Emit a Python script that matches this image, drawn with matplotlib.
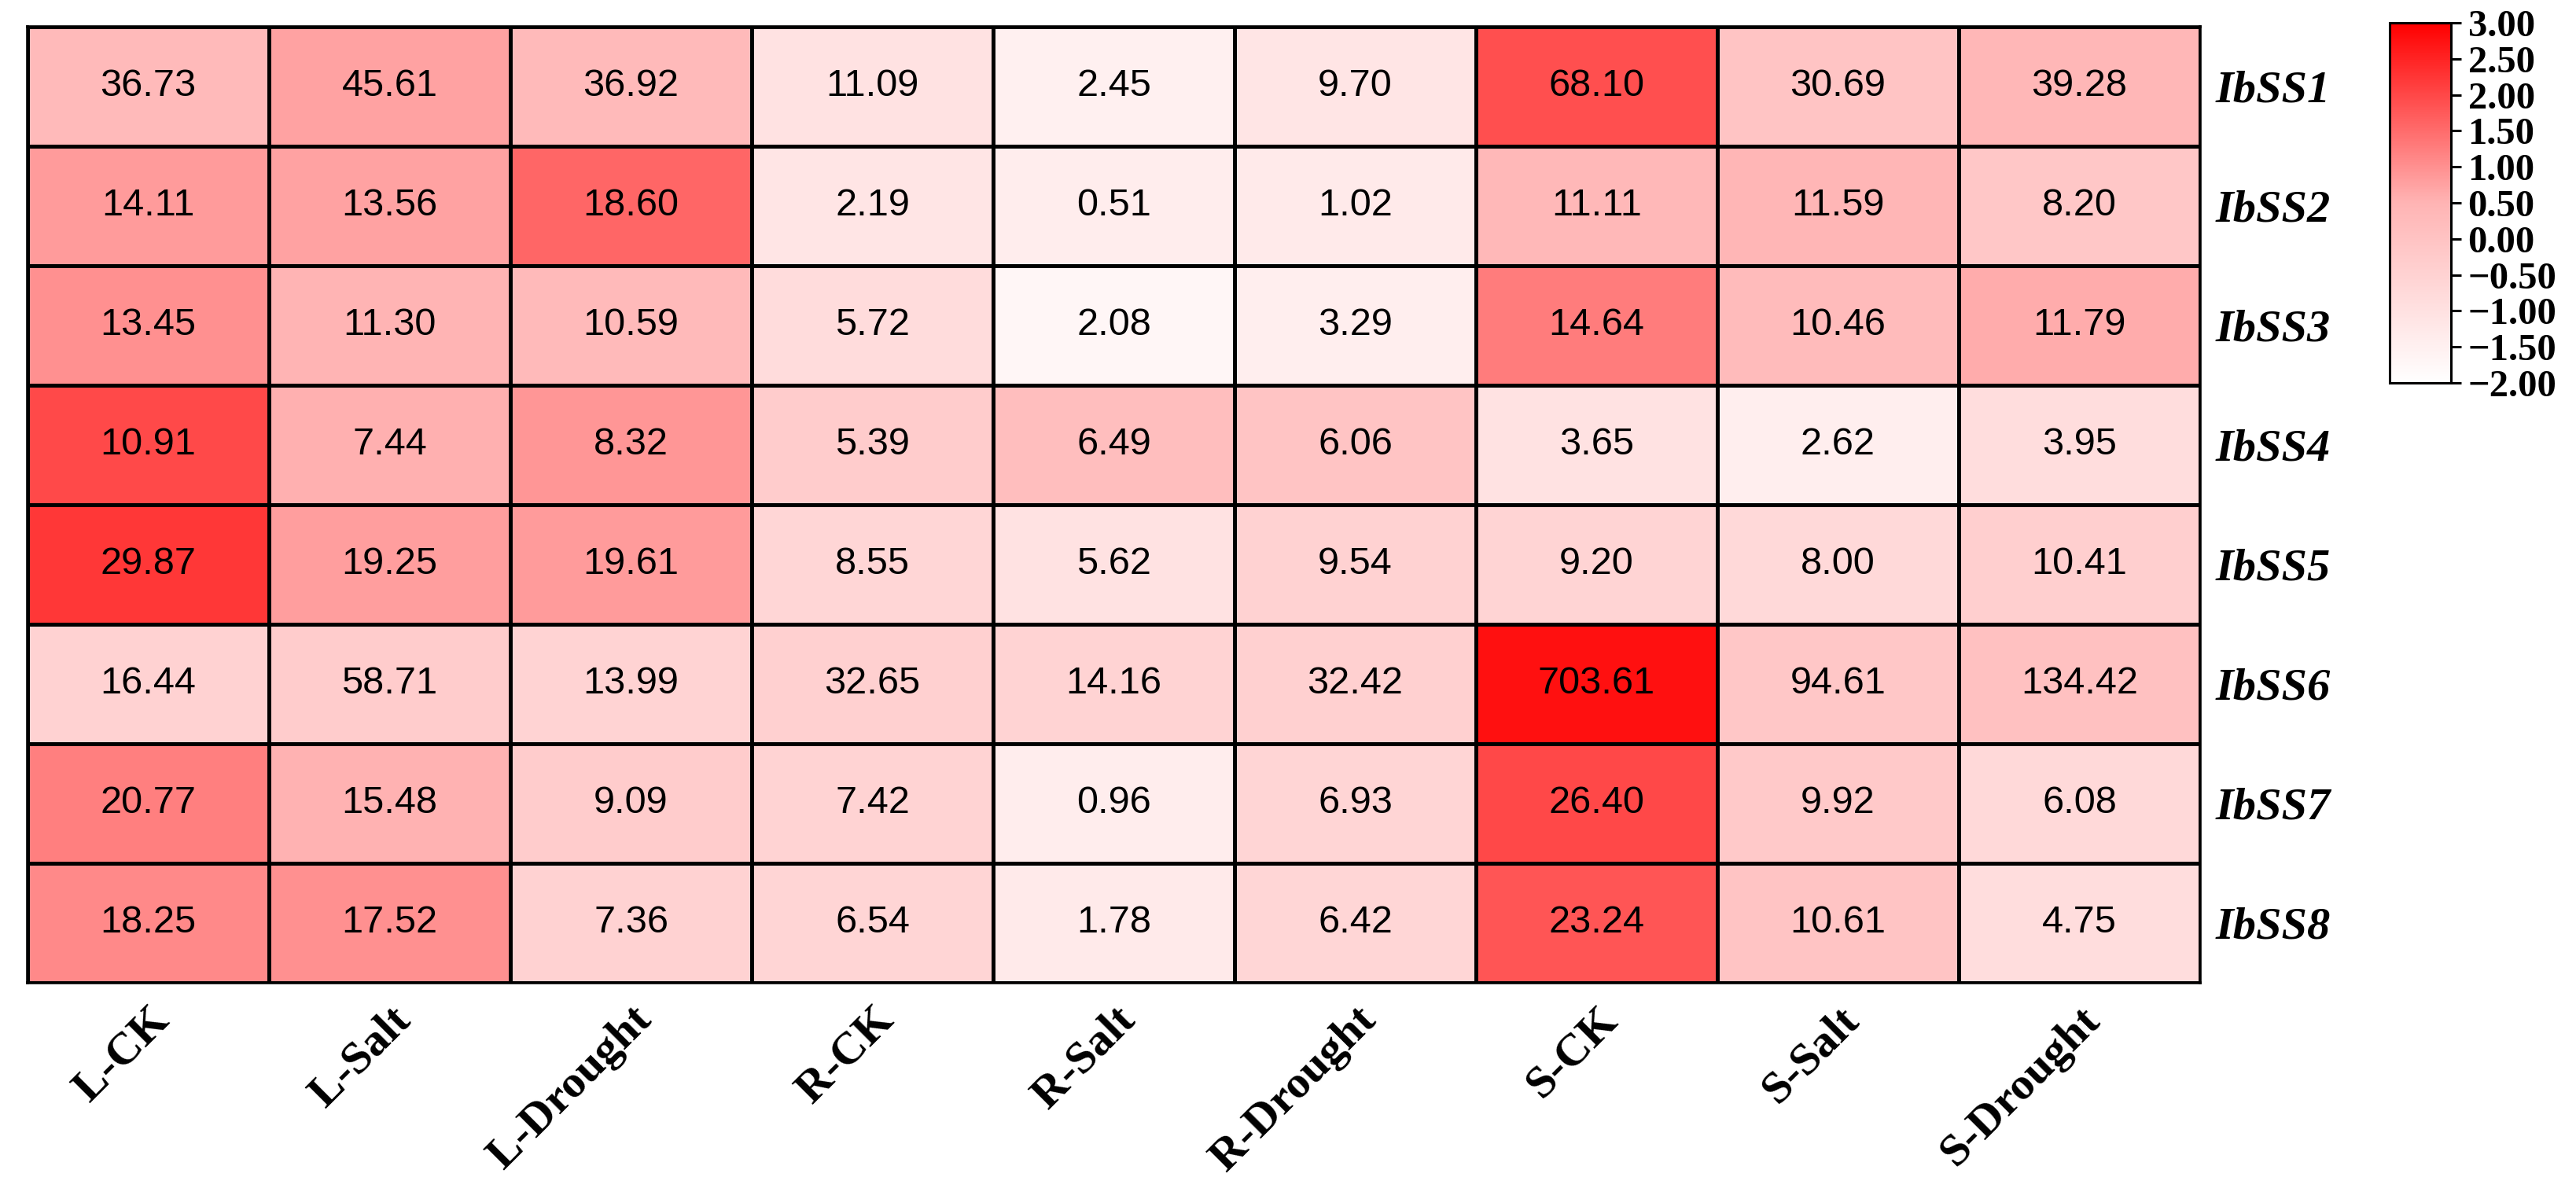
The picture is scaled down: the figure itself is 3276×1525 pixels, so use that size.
import numpy as np
import matplotlib
matplotlib.use("Agg")
import matplotlib.pyplot as plt
from matplotlib.colors import LinearSegmentedColormap, Normalize

genes = ["IbSS1", "IbSS2", "IbSS3", "IbSS4", "IbSS5", "IbSS6", "IbSS7", "IbSS8"]
samples = ["L-CK", "L-Salt", "L-Drought", "R-CK", "R-Salt", "R-Drought",
           "S-CK", "S-Salt", "S-Drought"]

IbSS1 = [36.73, 45.61, 36.92, 11.09, 2.45, 9.70, 68.10, 30.69, 39.28]
IbSS2 = [14.11, 13.56, 18.60, 2.19, 0.51, 1.02, 11.11, 11.59, 8.20]
IbSS3 = [13.45, 11.30, 10.59, 5.72, 2.08, 3.29, 14.64, 10.46, 11.79]
IbSS4 = [10.91, 7.44, 8.32, 5.39, 6.49, 6.06, 3.65, 2.62, 3.95]
IbSS5 = [29.87, 19.25, 19.61, 8.55, 5.62, 9.54, 9.20, 8.00, 10.41]
IbSS6 = [16.44, 58.71, 13.99, 32.65, 14.16, 32.42, 703.61, 94.61, 134.42]
IbSS7 = [20.77, 15.48, 9.09, 7.42, 0.96, 6.93, 26.40, 9.92, 6.08]
IbSS8 = [18.25, 17.52, 7.36, 6.54, 1.78, 6.42, 23.24, 10.61, 4.75]

values = np.array([IbSS1, IbSS2, IbSS3, IbSS4, IbSS5, IbSS6, IbSS7, IbSS8])
# row-scaled (z-score) colouring
zs = (values - values.mean(axis=1, keepdims=True)) / values.std(axis=1, keepdims=True)

cbar_ticks = [3.0, 2.5, 2.0, 1.5, 1.0, 0.5, 0.0, -0.5, -1.0, -1.5, -2.0]

cmap = LinearSegmentedColormap.from_list("wr", ["#ffffff", "#ffb4b4", "#ff0000"])
norm = Normalize(vmin=-2, vmax=3)

W, H = 3276, 1525
fig = plt.figure(figsize=(W / 100, H / 100), dpi=100)

ax = fig.add_axes([35 / W, 1 - 1250 / H, (2798 - 35) / W, (1250 - 34) / H])
mesh = ax.pcolormesh(np.arange(len(samples) + 1), np.arange(len(genes) + 1), zs,
                     cmap=cmap, norm=norm, edgecolors="black", linewidth=2.2)
ax.set_xlim(0, len(samples))
ax.set_ylim(len(genes), 0)

for i in range(len(genes)):
    for j in range(len(samples)):
        ax.text(j + 0.5, i + 0.5, f"{values[i, j]:.2f}", ha="center", va="center",
                fontsize=35, family="Liberation Sans", color="black")

ax.set_xticks(np.arange(len(samples)) + 0.5)
ax.set_xticklabels(samples, rotation=45, ha="right", rotation_mode="anchor",
                   fontsize=42, family="Liberation Serif", fontweight="bold")
ax.set_yticks(np.arange(len(genes)) + 0.5)
ax.set_yticklabels(genes, fontsize=42, family="Liberation Serif",
                   fontweight="bold", fontstyle="italic")
ax.yaxis.tick_right()
ax.tick_params(axis="both", length=0)
ax.tick_params(axis="y", pad=14)
ax.tick_params(axis="x", pad=15)
for s in ax.spines.values():
    s.set_linewidth(2.6)

cax = fig.add_axes([3039 / W, 1 - 487 / H, (3117 - 3039) / W, (487 - 29) / H])
cb = fig.colorbar(mesh, cax=cax)
cb.outline.set_linewidth(2.2)
cb.ax.set_yticks(cbar_ticks,
                 labels=[f"{v:.2f}".replace("-", "\u2212") for v in cbar_ticks],
                 fontsize=35, family="Liberation Serif", fontweight="bold")
cb.ax.tick_params(length=9.5, width=2.2, pad=6)

fig.savefig("out.png", dpi=100, facecolor="white")
